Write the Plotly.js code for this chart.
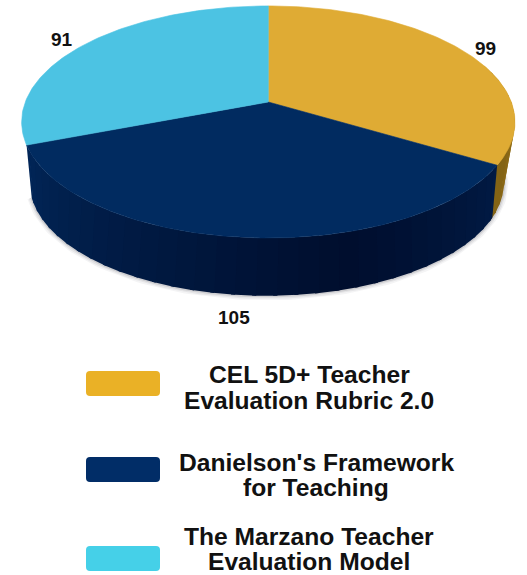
<!DOCTYPE html>
<html>
<head>
<meta charset="utf-8">
<script src="https://cdn.plot.ly/plotly-3.0.1.min.js"></script>
<style>html,body{margin:0;padding:0;background:#fff}#chart{width:527px;height:575px}</style>
</head>
<body>
<div id="chart"></div>
<script>
// Survey counts per teacher evaluation framework
const captionLines = [
  ["CEL 5D+ Teacher", "Evaluation Rubric 2.0"],
  ["Danielson's Framework", "for Teaching"],
  ["The Marzano Teacher", "Evaluation Model"]
];
const values = [99, 105, 91];
const topColors = ["#DFAB34", "#012B60", "#4CC3E3"];
const swatchColors = ["#EAB126", "#012D67", "#45D0E8"];

// Pie geometry in page units: a tilted disc seen in perspective
const apexY = 102;
const upper = {cx: 268.3, A: 243.0, B: 112.6, k: 0.172, y0: apexY};
const lower = {cx: 266.8, A: 230.0, B: 106.0, k: 0.242, y0: apexY + 54};

function project(disc, deg) {
  const a = deg * Math.PI / 180;
  const u = Math.sin(a), v = -Math.cos(a);
  const w = 1 - disc.k * v;
  return [disc.cx + disc.A * u / w, disc.y0 + disc.B * v / w];
}
function arc(disc, from, to) {
  const pts = [], n = Math.max(2, Math.ceil(Math.abs(to - from)));
  for (let i = 0; i <= n; i++) pts.push(project(disc, from + (to - from) * i / n));
  return pts;
}
function poly(pts, color, lineWidth) {
  return {
    type: "scatter", mode: "lines", x: pts.map(p => p[0]), y: pts.map(p => p[1]),
    fill: "toself", fillcolor: color, line: {color: color, width: lineWidth},
    hoverinfo: "skip", showlegend: false
  };
}

const total = values.reduce((s, v) => s + v, 0);
const edges = [0];
values.forEach(v => edges.push(edges[edges.length - 1] + v / total * 360));

// Side wall shading: navy is darkest front-right and lifts toward the left end
function navySide(deg) {
  const t = Math.max(0, Math.min(1, (deg - 165) / 85));
  const r = Math.min(1, (165 - deg) / 45);
  const mix = (a, b, f) => Math.round(a + (b - a) * f);
  if (deg < 165) return `rgb(${mix(0, 1, r)},${mix(14, 26, r)},${mix(46, 68, r)})`;
  return `rgb(${mix(0, 1, t)},${mix(14, 38, t)},${mix(46, 88, t)})`;
}
function goldSide(deg) {
  const t = Math.min(1, Math.abs(deg - 118) / 30);
  const mix = (a, b) => Math.round(a + (b - a) * t);
  return `rgb(${mix(130, 165)},${mix(98, 125)},${mix(20, 30)})`;
}

const traces = [];

// Soft shadow hugging the lower rim
[[9, 0.05], [6, 0.07], [3, 0.12]].forEach(([width, alpha]) => {
  const rim = arc(lower, 95, edges[2]);
  traces.push({
    type: "scatter", mode: "lines", x: rim.map(p => p[0]), y: rim.map(p => p[1]),
    line: {color: `rgba(40,40,50,${alpha})`, width: width},
    hoverinfo: "skip", showlegend: false
  });
});

// Side wall, drawn as narrow strips overlapping one another
const step = 4;
for (let d = 70; d < edges[2]; d += step) {
  const next = Math.min(d + step, edges[2]);
  const mid = (d + next) / 2;
  const color = mid < edges[1] ? goldSide(mid) : navySide(mid);
  const end = Math.min(next + 0.8, edges[2]);
  traces.push(poly(arc(upper, d, end).concat(arc(lower, end, d)), color, 0));
}
// Close the wall where gold meets navy so the boundary stays crisp
traces.push(poly(arc(upper, edges[1], edges[1] + 2).concat(arc(lower, edges[1] + 2, edges[1])), navySide(edges[1]), 0));

// Top face, one wedge per category
values.forEach((v, i) => {
  const pts = [[upper.cx, apexY]].concat(arc(upper, edges[i], edges[i + 1]));
  pts.push([upper.cx, apexY]);
  traces.push(poly(pts, topColors[i], 0.6));
});

const textFont = {family: "Liberation Sans, Arial, sans-serif", color: "#111"};

// Value labels around the disc
const labelAnchors = [[485, 48], [234, 317], [62, 39]];
const valueLabels = values.map((v, i) => ({
  x: labelAnchors[i][0], y: labelAnchors[i][1], xref: "x", yref: "y",
  text: "<b>" + v + "</b>", showarrow: false,
  font: Object.assign({size: 19}, textFont)
}));

// Legend: rounded swatches with centred two-line captions
const swatchTops = [371, 457, 546];
const captionX = [309, 316, 309];
const captionY = [[374, 400], [462, 487], [536, 561.5]];
const swatches = swatchColors.map((c, i) => {
  const x0 = 86, x1 = 160, y0 = swatchTops[i], y1 = y0 + 25, r = 4;
  return {
    type: "path", xref: "x", yref: "y", fillcolor: c, line: {width: 0},
    path: `M${x0 + r},${y0} L${x1 - r},${y0} Q${x1},${y0} ${x1},${y0 + r} L${x1},${y1 - r} Q${x1},${y1} ${x1 - r},${y1} L${x0 + r},${y1} Q${x0},${y1} ${x0},${y1 - r} L${x0},${y0 + r} Q${x0},${y0} ${x0 + r},${y0} Z`
  };
});
const captions = [];
captionLines.forEach((lines, i) => lines.forEach((line, j) => captions.push({
  x: captionX[i], y: captionY[i][j], xref: "x", yref: "y",
  text: "<b>" + line + "</b>", showarrow: false, align: "center", borderpad: 0,
  font: Object.assign({size: 24.6}, textFont)
})));

const hiddenAxis = {visible: false, fixedrange: true, showgrid: false, zeroline: false};
Plotly.newPlot("chart", traces, {
  width: 527, height: 575,
  margin: {l: 0, r: 0, t: 0, b: 0},
  paper_bgcolor: "#fff", plot_bgcolor: "#fff",
  showlegend: false,
  xaxis: Object.assign({range: [0, 527]}, hiddenAxis),
  yaxis: Object.assign({range: [575, 0]}, hiddenAxis),
  shapes: swatches,
  annotations: valueLabels.concat(captions)
}, {displayModeBar: false, staticPlot: true});
</script>
</body>
</html>
